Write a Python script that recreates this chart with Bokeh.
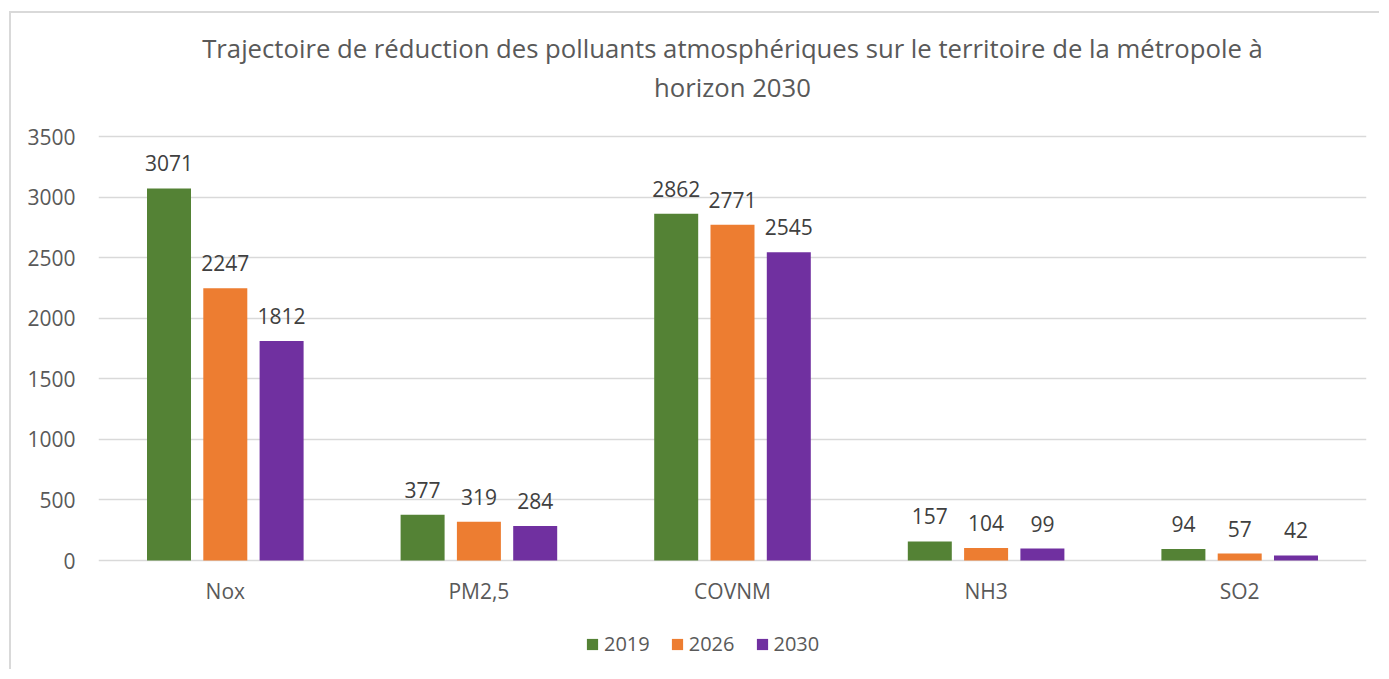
from bokeh.plotting import figure
from bokeh.models import (FactorRange, Range1d, ColumnDataSource, LabelSet, Legend,
                          LegendItem, FixedTicker, Title)
from bokeh.core.properties import value
from bokeh.transform import dodge
from bokeh.embed import file_html
from bokeh.resources import INLINE

categories = ["Nox", "PM2,5", "COVNM", "NH3", "SO2"]
years = ["2019", "2026", "2030"]
v2019 = [3071, 377, 2862, 157, 94]
v2026 = [2247, 319, 2771, 104, 57]
v2030 = [1812, 284, 2545, 99, 42]
y_ticks = [0, 500, 1000, 1500, 2000, 2500, 3000, 3500]
title_lines = ["Trajectoire de réduction des polluants atmosphériques sur le territoire de la métropole à",
               "horizon 2030"]

colors = ["#548235", "#ED7D31", "#7030A0"]
offsets = [-0.222, 0.0, 0.222]
FONT = "Open Sans"

# page geometry (pixels)
MX, MY, BW = 9, 11, 2              # outer margin and border width
OX, OY = MX + BW, MY + BW          # canvas origin
W, H = 1381 - OX, 671 - OY
FRAME_LEFT, FRAME_RIGHT = 98, 1366
FRAME_TOP = 107
PX_TOP_TICK, PX_ZERO = 136, 560
upp = y_ticks[-1] / (PX_ZERO - PX_TOP_TICK)          # data units per pixel
y_max = y_ticks[-1] + (PX_TOP_TICK - FRAME_TOP) * upp
y_min = -((OY + H) - PX_ZERO) * upp

p = figure(width=W, height=H, output_backend="svg", toolbar_location=None,
           x_range=FactorRange(factors=categories, range_padding=0, factor_padding=0),
           y_range=Range1d(y_min, y_max),
           min_border_left=FRAME_LEFT - OX, min_border_right=(OX + W) - FRAME_RIGHT,
           min_border_top=FRAME_TOP - OY, min_border_bottom=0)
p.margin = (MY, 0, 0, MX)
p.styles = {"border-top": f"{BW}px solid #d9d9d9", "border-left": f"{BW}px solid #d9d9d9"}

p.add_layout(Title(text=title_lines[1], align="center", text_font=FONT, text_font_size="25.7px",
                   text_font_style="normal", text_color="#595959", standoff=5), "above")
p.add_layout(Title(text=title_lines[0], align="center", text_font=FONT, text_font_size="25.7px",
                   text_font_style="normal", text_color="#595959", standoff=0), "above")

items = []
for year, vals, col, off in zip(years, [v2019, v2026, v2030], colors, offsets):
    src = ColumnDataSource(dict(cat=categories, val=vals, lbl=[str(v) for v in vals]))
    r = p.vbar(x=dodge("cat", off, range=p.x_range), top="val", width=0.1735,
               source=src, fill_color=col, line_color=None)
    items.append(LegendItem(label=year, renderers=[r]))
    p.add_layout(LabelSet(x=dodge("cat", off, range=p.x_range), y="val", text="lbl", source=src,
                          y_offset=17, text_align="center", text_baseline="alphabetic",
                          text_font=value(FONT), text_font_size=value("21px"),
                          text_color=value("#404040")))

# category labels under the zero line
cat_src = ColumnDataSource(dict(cat=categories, y=[0] * len(categories)))
p.add_layout(LabelSet(x="cat", y="y", text="cat", source=cat_src, y_offset=-38,
                      text_align="center", text_baseline="alphabetic",
                      text_font=value(FONT), text_font_size=value("21px"),
                      text_color=value("#595959")))

legend = Legend(items=items, orientation="horizontal", location=(487, 14),
                border_line_color=None, background_fill_alpha=0,
                glyph_width=14, glyph_height=14, label_standoff=5, spacing=20, padding=0,
                margin=0,
                label_text_font=FONT, label_text_font_size="20px", label_text_color="#595959")
p.add_layout(legend, "center")

p.xaxis.visible = False
p.yaxis.ticker = FixedTicker(ticks=y_ticks)
ax = p.yaxis[0]
ax.axis_line_color = None
ax.major_tick_line_color = None
ax.minor_tick_line_color = None
ax.major_tick_out = 0
ax.major_tick_in = 0
ax.major_label_text_font = FONT
ax.major_label_text_font_size = "21px"
ax.major_label_text_color = "#595959"
ax.major_label_standoff = 23

p.xgrid.grid_line_color = None
p.ygrid.grid_line_color = "#d9d9d9"
p.ygrid.grid_line_width = 1.5
p.outline_line_color = None

open("out.html", "w").write(file_html(p, INLINE))
